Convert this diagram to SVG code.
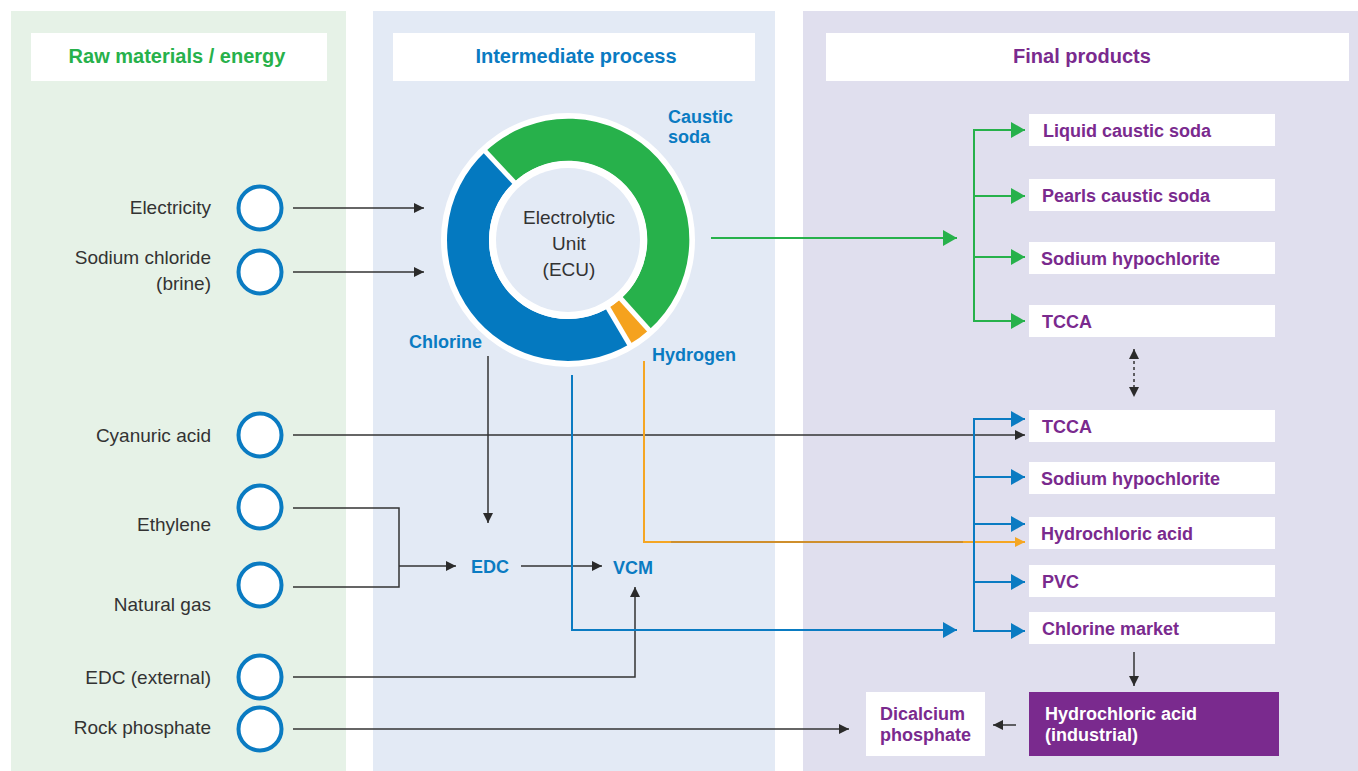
<svg xmlns="http://www.w3.org/2000/svg" width="1358" height="771" viewBox="0 0 1358 771">
<defs>
<style>
.pl{stroke:none}
.hdr{font-family:"Liberation Sans",Arial,sans-serif;font-weight:bold;font-size:20px;text-anchor:middle}
.lbl{font-family:"Liberation Sans",Arial,sans-serif;font-size:19px;fill:#333;text-anchor:end}
.ctr{font-family:"Liberation Sans",Arial,sans-serif;font-size:19px;fill:#333;text-anchor:middle}
.bl{font-family:"Liberation Sans",Arial,sans-serif;font-weight:bold;font-size:18px;fill:#0a7bc2}
.pu{font-family:"Liberation Sans",Arial,sans-serif;font-weight:bold;font-size:18px;fill:#7a2a8e}
.wt{font-family:"Liberation Sans",Arial,sans-serif;font-weight:bold;font-size:18px;fill:#fff}
.circ{fill:#fff;stroke:#0a7bc2;stroke-width:4}
.box{fill:#fff}
.k{fill:none;stroke:#333;stroke-width:1.5}
.g{fill:none;stroke:#27b14b;stroke-width:2}
.b{fill:none;stroke:#0a7bc2;stroke-width:2}
.o{fill:none;stroke:#f5a623;stroke-width:2}
</style>
<marker id="ak" viewBox="0 0 10 10" refX="10" refY="5" markerWidth="10" markerHeight="10" markerUnits="userSpaceOnUse" orient="auto-start-reverse"><path d="M0,0 L10,5 L0,10z" fill="#2b2b2b"/></marker>
<marker id="ag" viewBox="0 0 14 16" refX="14" refY="8" markerWidth="14" markerHeight="16" markerUnits="userSpaceOnUse" orient="auto"><path d="M0,0 L14,8 L0,16z" fill="#27b14b"/></marker>
<marker id="ab" viewBox="0 0 14 16" refX="14" refY="8" markerWidth="14" markerHeight="16" markerUnits="userSpaceOnUse" orient="auto"><path d="M0,0 L14,8 L0,16z" fill="#0a7bc2"/></marker>
<marker id="ao" viewBox="0 0 10 10" refX="10" refY="5" markerWidth="10" markerHeight="10" markerUnits="userSpaceOnUse" orient="auto"><path d="M0,0 L10,5 L0,10z" fill="#f5a623"/></marker>
</defs>
<rect width="1358" height="771" fill="#fff"/>
<g id="panels">
<rect x="11" y="11" width="335" height="760" fill="#e6f2e7"/>
<rect x="373" y="11" width="402" height="760" fill="#e3eaf5"/>
<rect x="803" y="11" width="555" height="760" fill="#e0dfee"/>
<rect class="box" x="31" y="33" width="296" height="48"/>
<rect class="box" x="393" y="33" width="362" height="48"/>
<rect class="box" x="826" y="33" width="523" height="48"/>
<text class="hdr" x="177" y="63" fill="#27b14b">Raw materials / energy</text>
<text class="hdr" x="576" y="63" fill="#0a7bc2">Intermediate process</text>
<text class="hdr" x="1082" y="63" fill="#7a2a8e">Final products</text>
</g>
<g id="connectors">
<line class="k" x1="293" y1="208" x2="424" y2="208" marker-end="url(#ak)"/>
<line class="k" x1="293" y1="272" x2="424" y2="272" marker-end="url(#ak)"/>
<line class="k" x1="293" y1="435" x2="1025" y2="435" marker-end="url(#ak)"/>
<path class="k" d="M293,508 H399 V587 H293"/>
<line class="k" x1="399" y1="566" x2="456" y2="566" marker-end="url(#ak)"/>
<line class="k" x1="488" y1="356" x2="488" y2="523" marker-end="url(#ak)"/>
<line class="k" x1="521" y1="566" x2="602" y2="566" marker-end="url(#ak)"/>
<path class="k" d="M293,677 H635 V587" marker-end="url(#ak)"/>
<line class="k" x1="293" y1="729" x2="849" y2="729" marker-end="url(#ak)"/>
<path class="b" d="M572,375 V630 H957" marker-end="url(#ab)"/>
<path class="o" d="M644,361 V542 H1025" marker-end="url(#ao)"/>
<line x1="671" y1="542" x2="963" y2="542" stroke="#cf8f2c" stroke-width="2"/>
<line class="g" x1="711" y1="238" x2="957" y2="238" marker-end="url(#ag)"/>
<path class="g" d="M1025,130 H974 V321 H1025" marker-end="url(#ag)"/>
<line class="g" x1="974" y1="130" x2="1025" y2="130" marker-end="url(#ag)"/>
<line class="g" x1="974" y1="196" x2="1025" y2="196" marker-end="url(#ag)"/>
<line class="g" x1="974" y1="257" x2="1025" y2="257" marker-end="url(#ag)"/>
<path class="b" d="M1025,419 H974 V631 H1025" marker-end="url(#ab)"/>
<line class="b" x1="974" y1="419" x2="1025" y2="419" marker-end="url(#ab)"/>
<line class="b" x1="974" y1="477" x2="1025" y2="477" marker-end="url(#ab)"/>
<line class="b" x1="974" y1="524" x2="1025" y2="524" marker-end="url(#ab)"/>
<line class="b" x1="974" y1="582" x2="1025" y2="582" marker-end="url(#ab)"/>
<line x1="1134" y1="349" x2="1134" y2="397" stroke="#333" stroke-width="1.5" stroke-dasharray="3,3" marker-start="url(#ak)" marker-end="url(#ak)"/>
<line class="k" x1="1134" y1="652" x2="1134" y2="686" marker-end="url(#ak)"/>
<line class="k" x1="1016" y1="725" x2="993" y2="725" marker-end="url(#ak)"/>
</g>
<g id="ecu">
<circle cx="568" cy="240" r="127" fill="#fff"/>
<path d="M499.80,166.87 A100,100 0 1 1 634.91,314.31" fill="none" stroke="#27b14b" stroke-width="42"/>
<path d="M634.91,314.31 A100,100 0 0 1 618.75,326.16" fill="none" stroke="#f5a21e" stroke-width="42"/>
<path d="M618.75,326.16 A100,100 0 0 1 499.80,166.87" fill="none" stroke="#0479c0" stroke-width="42"/>
<line x1="517.53" y1="185.88" x2="482.07" y2="147.85" stroke="#fff" stroke-width="5"/>
<line x1="617.52" y1="294.99" x2="652.31" y2="333.64" stroke="#fff" stroke-width="5"/>
<line x1="605.56" y1="303.76" x2="631.95" y2="348.57" stroke="#fff" stroke-width="5"/>
<circle cx="568" cy="240" r="79" fill="#fff"/>
<circle cx="568" cy="240" r="72" fill="#e3eaf5"/>
<text class="ctr" x="569" y="224">Electrolytic</text>
<text class="ctr" x="569" y="250">Unit</text>
<text class="ctr" x="569" y="276">(ECU)</text>
<text class="bl" x="668" y="123">Caustic</text>
<text class="bl" x="668" y="143">soda</text>
<text class="bl" x="409" y="348">Chlorine</text>
<text class="bl" x="652" y="361">Hydrogen</text>
</g>
<g id="inputs">
<g id="n-electricity"><circle class="circ" cx="260" cy="208" r="21.5"/><text class="lbl" x="211" y="214">Electricity</text></g>
<g id="n-sodium"><circle class="circ" cx="260" cy="272" r="21.5"/><text class="lbl" x="211" y="264">Sodium chloride</text><text class="lbl" x="211" y="290">(brine)</text></g>
<g id="n-cyanuric"><circle class="circ" cx="260" cy="435" r="21.5"/><text class="lbl" x="211" y="442">Cyanuric acid</text></g>
<g id="n-ethylene"><circle class="circ" cx="260" cy="507" r="21.5"/><text class="lbl" x="211" y="531">Ethylene</text></g>
<g id="n-natgas"><circle class="circ" cx="260" cy="585" r="21.5"/><text class="lbl" x="211" y="611">Natural gas</text></g>
<g id="n-edcext"><circle class="circ" cx="260" cy="677" r="21.5"/><text class="lbl" x="211" y="684">EDC (external)</text></g>
<g id="n-rock"><circle class="circ" cx="260" cy="729" r="21.5"/><text class="lbl" x="211" y="734">Rock phosphate</text></g>
</g>
<g id="intermediate">
<g id="n-edc"><text class="bl" x="471" y="573">EDC</text></g>
<g id="n-vcm"><text class="bl" x="613" y="574">VCM</text></g>
</g>
<g id="products">
<g id="p1"><rect class="box" x="1029" y="114" width="246" height="32"/><text class="pu" x="1043" y="137">Liquid caustic soda</text></g>
<g id="p2"><rect class="box" x="1029" y="179" width="246" height="32"/><text class="pu" x="1042" y="202">Pearls caustic soda</text></g>
<g id="p3"><rect class="box" x="1029" y="242" width="246" height="32"/><text class="pu" x="1041" y="265">Sodium hypochlorite</text></g>
<g id="p4"><rect class="box" x="1029" y="305" width="246" height="32"/><text class="pu" x="1042" y="328">TCCA</text></g>
<g id="p5"><rect class="box" x="1029" y="410" width="246" height="32"/><text class="pu" x="1042" y="433">TCCA</text></g>
<g id="p6"><rect class="box" x="1029" y="462" width="246" height="32"/><text class="pu" x="1041" y="485">Sodium hypochlorite</text></g>
<g id="p7"><rect class="box" x="1029" y="517" width="246" height="32"/><text class="pu" x="1041" y="540">Hydrochloric acid</text></g>
<g id="p8"><rect class="box" x="1029" y="565" width="246" height="32"/><text class="pu" x="1042" y="588">PVC</text></g>
<g id="p9"><rect class="box" x="1029" y="612" width="246" height="32"/><text class="pu" x="1042" y="635">Chlorine market</text></g>
<g id="p-hcl-ind"><rect x="1029" y="692" width="250" height="64" fill="#7a2a8e"/><text class="wt" x="1045" y="720">Hydrochloric acid</text><text class="wt" x="1045" y="741">(industrial)</text></g>
<g id="p-dcp"><rect class="box" x="866" y="692" width="119" height="64"/><text class="pu" x="880" y="720">Dicalcium</text><text class="pu" x="880" y="741">phosphate</text></g>
</g>
</svg>
